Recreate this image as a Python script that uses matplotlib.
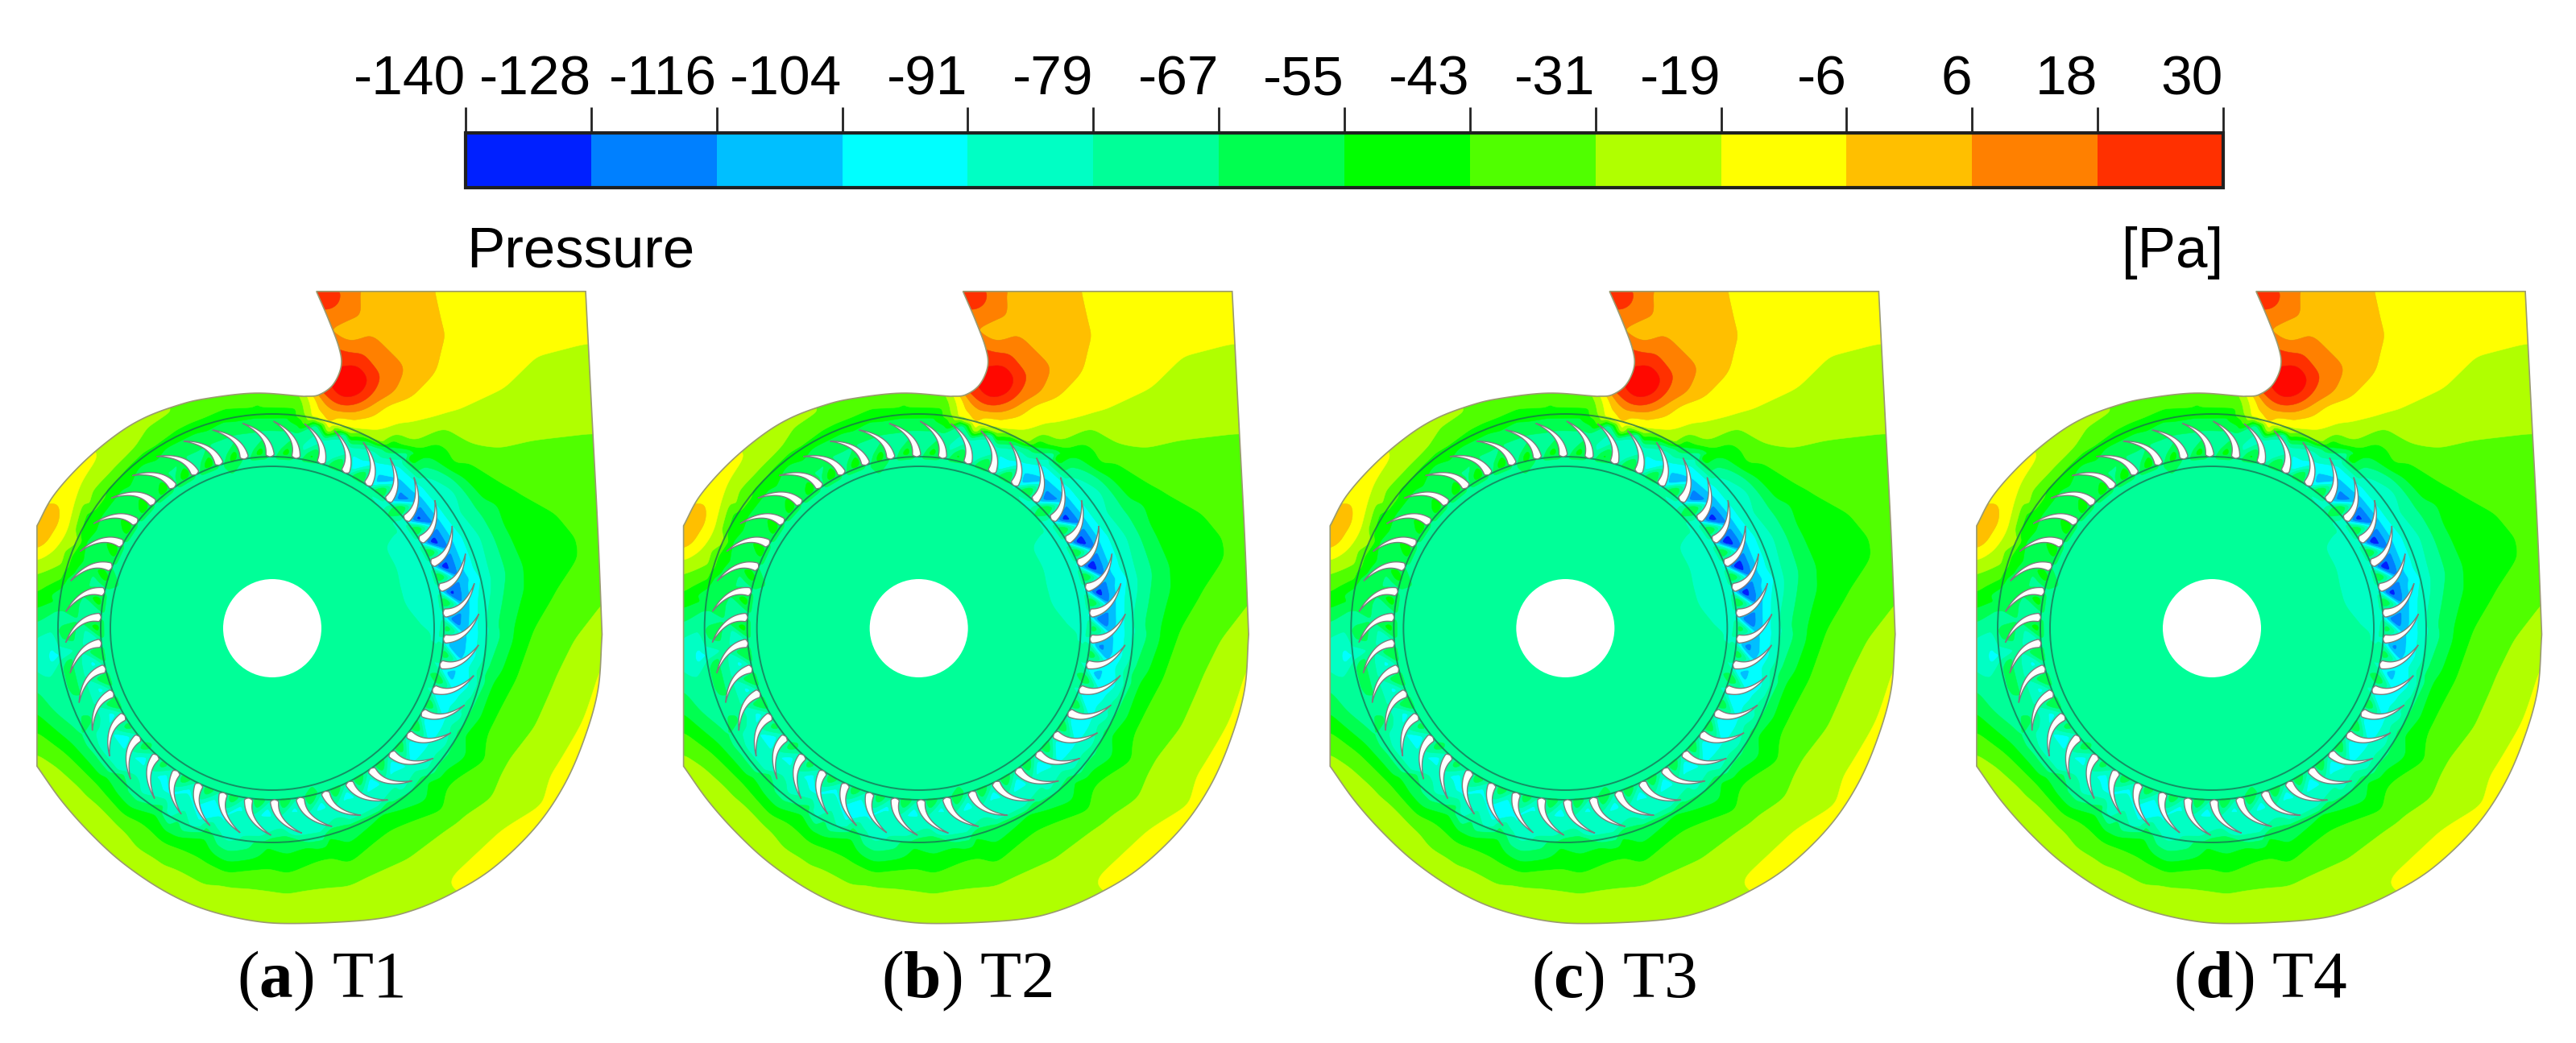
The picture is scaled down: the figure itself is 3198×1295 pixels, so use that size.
import numpy as np
import matplotlib
matplotlib.use("Agg")
import matplotlib.pyplot as plt
import matplotlib.tri as mtri
from matplotlib.colors import ListedColormap, BoundaryNorm
from matplotlib.cm import ScalarMappable
from matplotlib.patches import Polygon, Circle

plt.rcParams['font.family'] = ['Liberation Sans', 'DejaVu Sans']
plt.rcParams['mathtext.fontset'] = 'custom'
plt.rcParams['mathtext.bf'] = 'Liberation Serif:bold'
plt.rcParams['mathtext.rm'] = 'Liberation Serif'

# ---- colour scale
tick_values = [-140, -128, -116, -104, -91, -79, -67, -55, -43, -31, -19, -6, 6, 18, 30]
tick_labels = ['-140', '-128', '-116', '-104', '-91', '-79', '-67', '-55', '-43', '-31', '-19', '-6', '6', '18', '30']
bin_colors = ['#0020ff', '#0080ff', '#00bfff', '#00ffff', '#00ffc4', '#00ff98', '#00ff50', '#00ff00',
              '#50ff00', '#b0ff00', '#ffff00', '#ffbf00', '#ff8000', '#ff3000']
peak_color = '#ff0800'
captions = ['a', 'b', 'c', 'd']
names = ['T1', 'T2', 'T3', 'T4']
suction_offset = [0, -3, -4, -2]

# ---- casing outline of a panel, in units
casing_arc_upper = [(90, 545), (130, 480), (200, 410), (280, 350), (350, 312), (430, 285), (500, 270), (620, 258), (740, 265)]
casing_tongue = [(740, 265), (775, 262), (810, 240), (830, 200), (825, 160), (800, 100), (770, 38)]
casing_top = [(770, 38), (1425, 38)]
casing_right = [(1425, 38), (1440, 300), (1455, 560), (1465, 780)]
casing_spiral = [(1465, 780), (1455, 900), (1420, 1010), (1370, 1110), (1300, 1200), (1200, 1285), (1100, 1340),
                 (1000, 1378), (900, 1397), (730, 1405), (620, 1400), (500, 1375), (400, 1335), (300, 1275),
                 (220, 1210), (150, 1140), (90, 1065)]

# ---- field: points lying on each isobar, in the same units
iso_p18_tongue = [(880, 170), (925, 220), (900, 265), (850, 285), (800, 270)]
iso_p30_tongue = [(870, 195), (900, 230), (880, 262), (840, 275), (805, 258), (830, 215)]
iso_p6_tongue = [(905, 140), (985, 210), (960, 260), (880, 295), (810, 295), (785, 275), (850, 150)]
iso_p6_top = [(870, 30), (875, 85), (835, 105), (805, 115)]
iso_p18_top = [(830, 30), (822, 65), (795, 78)]
iso_m6 = [(1055, 30), (1080, 130), (1060, 210), (1000, 265), (900, 310), (800, 320), (775, 295), (765, 262)]
iso_m19_top = [(1430, 150), (1300, 180), (1220, 250), (1100, 300), (980, 325), (870, 335), (800, 338), (760, 310), (752, 262)]
iso_m31_top = [(1445, 345), (1300, 360), (1150, 370), (1000, 368), (930, 365), (850, 345), (770, 320), (740, 300), (735, 258)]
iso_m43 = [(1000, 395), (1100, 420), (1250, 470), (1350, 520), (1415, 570), (1410, 610), (1350, 690), (1290, 780),
           (1250, 880), (1190, 980), (1090, 1100), (950, 1200), (800, 1260), (650, 1285), (500, 1270), (400, 1230),
           (300, 1170), (220, 1090), (150, 1030), (90, 990)]
iso_m55 = [(90, 950), (180, 1020), (280, 1120), (380, 1170), (500, 1220), (650, 1240), (800, 1220), (930, 1170),
           (1040, 1100), (1130, 1000), (1200, 880), (1250, 790), (1275, 680), (1270, 640), (1230, 560), (1170, 490),
           (1120, 440), (1040, 395), (950, 375)]
iso_m67 = [(90, 900), (200, 1000), (300, 1080), (400, 1150), (500, 1195), (700, 1215), (850, 1190), (1000, 1120),
           (1090, 1040), (1150, 940), (1190, 850), (1210, 760), (1225, 680), (1215, 600), (1170, 520), (1090, 430), (1000, 385)]
iso_m79 = [(1110, 470), (1170, 570), (1195, 660), (1190, 770), (1160, 860), (1120, 950), (1060, 1040), (960, 1110),
           (850, 1165), (720, 1195), (580, 1195), (450, 1160), (340, 1100), (240, 1020), (160, 930), (120, 880), (90, 860)]
iso_m19_right = [(1460, 850), (1420, 960), (1340, 1080), (1220, 1200), (1100, 1300)]
iso_m31_right = [(1460, 700), (1400, 790), (1350, 880), (1300, 980), (1230, 1060), (1120, 1180), (1000, 1260), (850, 1320),
                 (700, 1340), (550, 1320), (400, 1270), (300, 1200), (220, 1120), (150, 1065), (90, 1030)]
iso_m19_left = [(90, 620), (140, 590), (170, 540), (190, 470), (250, 395)]
iso_m31_left = [(90, 650), (150, 630), (190, 580), (220, 500), (280, 420), (350, 360), (450, 300), (550, 262)]
iso_m43_left = [(90, 690), (150, 660), (175, 610), (210, 520), (290, 440), (380, 370), (500, 310), (620, 290), (720, 290)]
iso_m55_left = [(90, 725), (135, 710), (160, 660)]
iso_m67_left = [(90, 755), (135, 730), (150, 700)]
iso_m79_left = [(90, 785), (125, 770), (142, 750)]

isobars = [(30, iso_p30_tongue), (18, iso_p18_tongue), (18, iso_p18_top), (6, iso_p6_tongue), (6, iso_p6_top), (-6, iso_m6),
           (-19, iso_m19_top), (-19, iso_m19_right), (-19, iso_m19_left), (-31, iso_m31_top), (-31, iso_m31_right),
           (-31, iso_m31_left), (-43, iso_m43), (-43, iso_m43_left), (-55, iso_m55), (-55, iso_m55_left),
           (-67, iso_m67), (-67, iso_m67_left), (-79, iso_m79), (-79, iso_m79_left)]

spot_x = [860, 795, 840, 940, 1000, 1150, 1300, 1420, 1100, 1200, 950, 1350, 1200, 90, 115, 140, 180, 130, 1480, 1350, 1250, 1000, 700, 500, 300, 700, 950, 1100, 1500, 1500, 1500, 1500, 1500, 1400, 1200, 150, 300, 500, 700, 750, 790, 800, 770,
          40, 40, 40, 40, 40, 40, 40, 40, 40, 0, 0, 300, 1550, 1550, 1550]
spot_y = [230, 42, 130, 60, 60, 60, 60, 60, 200, 170, 290, 270, 330, 570, 545, 540, 440, 830, 500, 1000, 1150, 1330, 1375, 1350, 1250, 1450, 0, 0, 0, 150, 345, 700, 880, 1150, 1320, 400, 230, 200, 200, 60, 120, 180, 240,
          530, 600, 690, 755, 830, 900, 990, 1100, 1300, 0, 1500, 1500, 1500, 700, 0]
spot_p = [45, 36, 0, -1, -1, -12, -12, -12, -10, -11, -12, -25, -25, 8, 2, -3, -14, -98, -37, -25, -25, -25, -25, -25, -25, -25, 0, -8, -12, -19, -31, -31, -15, -12, -12, -15, -30, -40, -45, 20, 5, 30, 30,
          -3, -12, -43, -67, -85, -67, -43, -25, -25, -30, -25, -25, -12, -31, -12]

# ---- pressure around the impeller, going counter-clockwise from the right hand side
blade_suction = [-128, -135, -138, -138, -135, -125, -112, -100, -90, -82, -80, -78, -76, -74, -70, -68, -66, -66,
                 -68, -72, -82, -90, -96, -96, -96, -96, -94, -94, -94, -94, -94, -94, -94, -94, -96, -96, -98,
                 -100, -102, -104, -110, -120]
sector_pressure_side = [-50, -50, -50, -48, -46, -46, -48, -56, -62, -60, -58, -58, -58, -58]
sector_tip_gap = [-94, -90, -76, -60, -58, -54, -54, -62, -84, -92, -84, -82, -84, -90]
sector_inner_gap = [-88, -85, -78, -74, -72, -72, -72, -72, -74, -74, -74, -74, -74, -80]

CX0, CY0 = 338.0, 780.0
PANEL_STEP = 802.67
SX, SY = 1.96, 1.742
OX, OY = 0.0, 340.0
R_RING_OUT, R_RING_MID, R_RING_IN, R_HUB = 266, 213, 201, 61
N_BLADES = 42
STEP_DEG = 360.0 / N_BLADES


def to_px(pts):
    a = np.asarray(pts, float)
    return np.column_stack([a[:, 0] / SX + OX, a[:, 1] / SY + OY])


def catmull(pts, n=10):
    p = np.asarray(pts, float)
    p = np.vstack([2 * p[0] - p[1], p, 2 * p[-1] - p[-2]])
    out = []
    for i in range(1, len(p) - 2):
        for t in np.linspace(0, 1, n, endpoint=False):
            out.append(0.5 * ((2 * p[i]) + (-p[i - 1] + p[i + 1]) * t + (2 * p[i - 1] - 5 * p[i] + 4 * p[i + 1] - p[i + 2]) * t ** 2
                              + (-p[i - 1] + 3 * p[i] - 3 * p[i + 1] + p[i + 2]) * t ** 3))
    out.append(p[-2])
    return np.array(out)


def casing_px():
    parts = [catmull(casing_arc_upper), catmull(casing_tongue), np.array(casing_top, float), catmull(casing_right), catmull(casing_spiral)]
    return to_px(np.vstack(parts))


def polar(r, deg):
    t = np.deg2rad(deg)
    return CX0 + r * np.cos(t), CY0 - r * np.sin(t)


def field_points(suction_shift):
    xs, ys, ps = [], [], []
    for lev, pts in isobars:
        q = to_px(pts)
        xs += list(q[:, 0]); ys += list(q[:, 1]); ps += [lev] * len(q)
    q = to_px(list(zip(spot_x, spot_y)))
    xs += list(q[:, 0]); ys += list(q[:, 1]); ps += spot_p
    for i in range(N_BLADES):
        th = 5 + i * STEP_DEG
        k = i // 3
        low = blade_suction[i]
        deep = low + (suction_shift if low < -110 else 0)
        for r, a, v in [(225, th - 0.28 * STEP_DEG, deep),
                        (219, th + 0.42 * STEP_DEG, sector_pressure_side[k]),
                        (207, th, sector_inner_gap[k]),
                        (256, th + 0.5 * STEP_DEG, sector_tip_gap[k]),
                        (241, th + 0.15 * STEP_DEG, 0.5 * (low + sector_tip_gap[k]))]:
            x, y = polar(r, a)
            xs.append(x); ys.append(y); ps.append(v)
    for a in range(0, 360, 30):
        for r in (70, 140, 190):
            x, y = polar(r, a + 15)
            xs.append(x); ys.append(y)
            ps.append(-84 if (r == 190 and a + 15 in (15,)) else -73)
    return np.array(xs), np.array(ys), np.array(ps, float)


def soften(z, passes):
    out = z.copy()
    for _ in range(passes):
        out[1:-1, :] = 0.25 * out[:-2, :] + 0.5 * out[1:-1, :] + 0.25 * out[2:, :]
        out[:, 1:-1] = 0.25 * out[:, :-2] + 0.5 * out[:, 1:-1] + 0.25 * out[:, 2:]
    return out


def field_grid(suction_shift):
    X, Y, P = field_points(suction_shift)
    interp = mtri.LinearTriInterpolator(mtri.Triangulation(X, Y), P)
    gx, gy = np.meshgrid(np.arange(0, 790, 1.5), np.arange(330, 1190, 1.5))
    z = np.ma.filled(interp(gx, gy), -25.0)
    rr = np.hypot(gx - CX0, gy - CY0)
    fine, broad = soften(z, 3), soften(z, 40)
    weight = np.clip((rr - 270) / 16, 0, 1) + np.clip((194 - rr) / 10, 0, 1)
    return gx, gy, (1 - weight) * fine + weight * broad


def blade_polygon(theta0):
    t = np.linspace(0, 1, 40)
    r = 213 + 44 * t
    th = theta0 + 7.5 * t ** 2.3
    x, y = polar(r, th)
    dx, dy = np.gradient(x), np.gradient(y)
    n = np.hypot(dx, dy)
    nx, ny = -dy / n, dx / n
    w = 5.4 * (1 - t) ** 0.85 * np.minimum(1, (t / 0.06 + 0.03) ** 0.5)
    return np.vstack([np.column_stack([x + nx * w, y + ny * w]),
                      np.column_stack([x - nx * w, y - ny * w])[::-1]])


fig = plt.figure(figsize=(31.98, 12.95), dpi=100)
ax = fig.add_axes([0, 0, 1, 1])
ax.set_xlim(0, 3198); ax.set_ylim(1295, 0); ax.axis('off')

levels = tick_values + [200]
cmap = ListedColormap(bin_colors + [peak_color])
norm = BoundaryNorm(levels, cmap.N)
case_xy = casing_px()

for j in range(4):
    dx = j * PANEL_STEP
    gx, gy, gz = field_grid(suction_offset[j])
    patch = Polygon(case_xy + [dx, 0], closed=True, facecolor='#00ff98', edgecolor='none', zorder=1)
    ax.add_patch(patch)
    cs = ax.contourf(gx + dx, gy, np.clip(gz, -139, 199), levels=levels, cmap=cmap, norm=norm, zorder=2, antialiased=True)
    cs.set_edgecolor('face'); cs.set_linewidth(0.4)
    cs.set_clip_path(patch)
    ax.add_patch(Polygon(case_xy + [dx, 0], closed=True, fill=False, edgecolor='#9a9a70', lw=1.2, zorder=3))
    for R in (R_RING_OUT, R_RING_MID, R_RING_IN):
        c = Circle((CX0 + dx, CY0), R, fill=False, edgecolor='#1c6a52', lw=1.4, alpha=0.75, zorder=3)
        ax.add_patch(c)
        c.set_clip_path(patch)
    for i in range(N_BLADES):
        ax.add_patch(Polygon(blade_polygon(5 + i * STEP_DEG) + [dx, 0], closed=True, facecolor='white',
                             edgecolor='#7c7c7c', lw=1.0, zorder=4))
    ax.add_patch(Circle((CX0 + dx, CY0), R_HUB, facecolor='white', edgecolor='none', zorder=5))
    ax.text(CX0 + 60 + dx, 1238, r'($\mathbf{%s}$) %s' % (captions[j], names[j]), family='Liberation Serif',
            fontsize=60, ha='center', va='baseline', color='black', zorder=6)

# ---- colour bar
BAR_L, BAR_R, BAR_T, BAR_B = 578, 2760, 165, 233
cax = fig.add_axes([BAR_L / 3198, 1 - BAR_B / 1295, (BAR_R - BAR_L) / 3198, (BAR_B - BAR_T) / 1295])
bar_norm = BoundaryNorm(tick_values, len(bin_colors))
cb = fig.colorbar(ScalarMappable(norm=bar_norm, cmap=ListedColormap(bin_colors)), cax=cax, orientation='horizontal',
                  ticks=tick_values, spacing='uniform', drawedges=False)
cb.ax.xaxis.set_ticks_position('top')
cb.ax.set_xticks(tick_values)
cb.ax.set_xticklabels(tick_labels, fontsize=50, ha='right')
cb.ax.tick_params(axis='x', length=23, width=2.0, pad=1, color='#222222')
cb.ax.minorticks_off()
cb.outline.set_edgecolor('#202020'); cb.outline.set_linewidth(3)
ax.text(BAR_L + 1, 332, 'Pressure', fontsize=51, ha='left', va='baseline')
ax.text(BAR_R, 332, '[Pa]', fontsize=51, ha='right', va='baseline')

fig.savefig('out.png', dpi=100, facecolor='white')
